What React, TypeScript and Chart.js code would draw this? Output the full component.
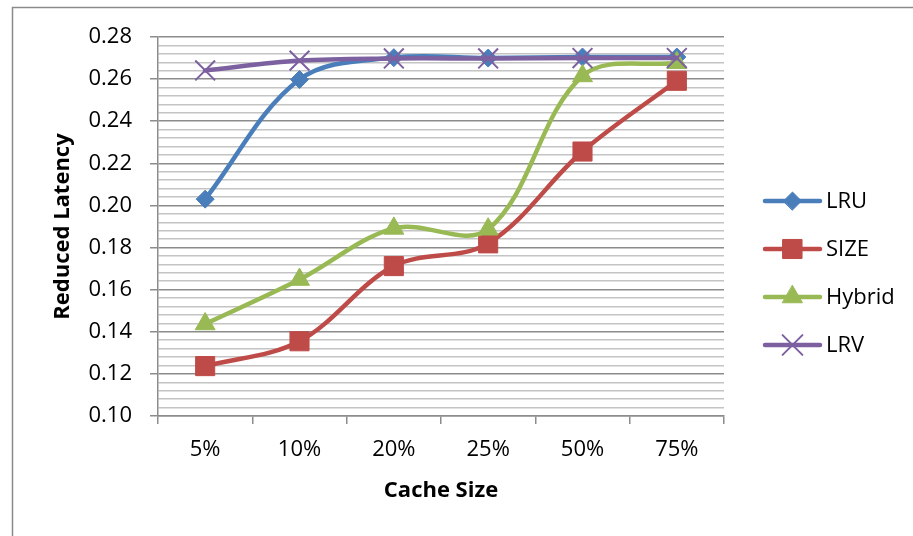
import React, { useEffect, useRef } from 'react';
import { Chart, registerables } from 'chart.js';
import { drawPoint } from 'chart.js/helpers';

Chart.register(...registerables);

// Cache size categories along the x axis
const cacheSizes = ['5%', '10%', '20%', '25%', '50%', '75%'];

// Reduced latency per replacement policy
const lruValues = [0.203, 0.2598, 0.2702, 0.2700, 0.2705, 0.2705];
const sizeValues = [0.1237, 0.1355, 0.1712, 0.1820, 0.2256, 0.2592];
const hybridValues = [0.1437, 0.1648, 0.1891, 0.1887, 0.2615, 0.2678];
const lrvValues = [0.2641, 0.2688, 0.2698, 0.2698, 0.2700, 0.2700];

// Y axis range and gridline spacing
const yMin = 0.1;
const yMax = 0.28;
const minorStep = 0.004;
const majorStep = 0.02;

const FONT = "'Open Sans', 'DejaVu Sans', sans-serif";
const MAJOR_GRID = '#8c8c8c';
const MINOR_GRID = '#c4c4c4';

const isMajor = (v: number) => {
  const k = v / majorStep;
  return Math.abs(k - Math.round(k)) < 1e-6;
};

// White page plus the outer chart frame
const framePlugin = {
  id: 'frame',
  beforeDraw(chart: any) {
    const { ctx, width, height } = chart;
    ctx.save();
    ctx.fillStyle = '#ffffff';
    ctx.fillRect(0, 0, width, height);
    ctx.strokeStyle = '#8a8a8a';
    ctx.lineWidth = 1.5;
    ctx.strokeRect(12.5, 7.5, width + 40, height + 40);
    ctx.restore();
  },
};

// Legend on the right: line sample with the series marker, then the name
const sideLegendPlugin = {
  id: 'sideLegend',
  afterDraw(chart: any) {
    const { ctx, chartArea } = chart;
    const x0 = chartArea.right + 41;
    const x1 = chartArea.right + 96;
    const firstRow = 201;
    const rowGap = 48;
    ctx.save();
    chart.data.datasets.forEach((ds: any, i: number) => {
      const y = firstRow + i * rowGap;
      ctx.strokeStyle = ds.borderColor;
      ctx.lineWidth = ds.borderWidth;
      ctx.lineCap = 'round';
      ctx.beginPath();
      ctx.moveTo(x0, y);
      ctx.lineTo(x1, y);
      ctx.stroke();
      ctx.fillStyle = ds.pointBackgroundColor;
      ctx.strokeStyle = ds.pointBorderColor;
      ctx.lineWidth = ds.pointBorderWidth;
      drawPoint(
        ctx,
        { pointStyle: ds.pointStyle, radius: ds.pointRadius, rotation: 0, borderWidth: ds.pointBorderWidth },
        (x0 + x1) / 2,
        y
      );
      ctx.fillStyle = '#000000';
      ctx.font = `22px ${FONT}`;
      ctx.textAlign = 'left';
      ctx.textBaseline = 'middle';
      ctx.fillText(ds.label, x1 + 6, y + 1);
    });
    ctx.restore();
  },
};

function makeSeries(label: string, data: number[], color: string, pointStyle: string, radius: number, pointBorderWidth: number, order: number) {
  return {
    label,
    data,
    borderColor: color,
    backgroundColor: color,
    borderWidth: 4.5,
    borderCapStyle: 'round',
    borderJoinStyle: 'round',
    tension: 0.35,
    pointStyle,
    pointRadius: radius,
    pointHoverRadius: radius,
    pointBackgroundColor: color,
    pointBorderColor: color,
    pointBorderWidth,
    order,
    fill: false,
  };
}

export default function App() {
  const canvasRef = useRef<HTMLCanvasElement | null>(null);

  useEffect(() => {
    if (!canvasRef.current) return;
    const chart = new Chart(canvasRef.current, {
      type: 'line',
      data: {
        labels: cacheSizes,
        datasets: [
          makeSeries('LRU', lruValues, '#4A7EBB', 'rectRot', 9, 1, 4),
          makeSeries('SIZE', sizeValues, '#BE4B48', 'rect', 13.5, 1, 3),
          makeSeries('Hybrid', hybridValues, '#98B954', 'triangle', 11.5, 1, 2),
          makeSeries('LRV', lrvValues, '#7D60A0', 'crossRot', 14, 2, 1),
        ] as any,
      },
      options: {
        responsive: false,
        animation: false,
        devicePixelRatio: 1,
        layout: { padding: { left: 50, right: 189, top: 37, bottom: 0 } },
        plugins: {
          legend: { display: false },
          tooltip: { enabled: false },
        },
        scales: {
          x: {
            type: 'category',
            offset: true,
            afterFit: (scale: any) => {
              scale.height = 120;
            },
            grid: {
              offset: true,
              drawOnChartArea: false,
              drawTicks: true,
              tickLength: 8,
              tickColor: MAJOR_GRID,
              lineWidth: 1.5,
            },
            border: { color: MAJOR_GRID, width: 1.5 },
            ticks: {
              color: '#000000',
              padding: 13,
              maxRotation: 0,
              font: { family: FONT, size: 22 },
            },
            title: {
              display: true,
              text: 'Cache Size',
              color: '#000000',
              font: { family: FONT, size: 22, weight: 'bold', lineHeight: 1.2 },
              padding: { top: 0, bottom: 32 },
            },
          },
          y: {
            type: 'linear',
            min: yMin,
            max: yMax,
            afterFit: (scale: any) => {
              scale.width = 108;
            },
            grid: {
              color: (c: any) => (c.tick && isMajor(c.tick.value) ? MAJOR_GRID : MINOR_GRID),
              tickColor: (c: any) => (c.tick && isMajor(c.tick.value) ? MAJOR_GRID : 'rgba(0,0,0,0)'),
              lineWidth: 1.5,
              tickLength: 8,
            },
            border: { color: MAJOR_GRID, width: 1.5 },
            ticks: {
              stepSize: minorStep,
              autoSkip: false,
              color: '#000000',
              padding: 18,
              font: { family: FONT, size: 22 },
              callback: (v: any) => (isMajor(Number(v)) ? Number(v).toFixed(2) : ''),
            },
            title: {
              display: true,
              text: 'Reduced Latency',
              color: '#000000',
              font: { family: FONT, size: 22, weight: 'bold', lineHeight: 1.2 },
              padding: { top: 0, bottom: 0 },
            },
          },
        },
      } as any,
      plugins: [framePlugin, sideLegendPlugin],
    });
    return () => chart.destroy();
  }, []);

  return (
    <div style={{ position: 'fixed', left: 0, top: 0, width: 913, height: 536, overflow: 'hidden', background: '#fff' }}>
      <canvas ref={canvasRef} width={913} height={536} style={{ display: 'block' }} />
    </div>
  );
}
